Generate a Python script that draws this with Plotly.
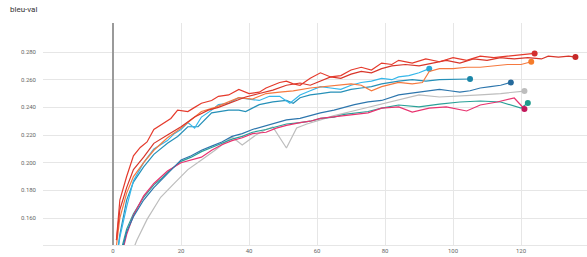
import plotly.graph_objects as go

# ---- data ----
red_a_steps = [1,2,4,6,8,10,12,15,17,19,22,24,26,29,31,34,37,40,43,45,47,49,51,53,55,58,61,64,67,70,73,76,79,82,84,88,92,96,100,104,108,112,116,120,124]
red_a_vals = [0.144,0.173,0.190,0.205,0.211,0.215,0.224,0.229,0.232,0.238,0.237,0.240,0.243,0.245,0.248,0.249,0.253,0.250,0.251,0.254,0.256,0.258,0.259,0.257,0.256,0.261,0.265,0.262,0.263,0.267,0.269,0.267,0.272,0.271,0.274,0.272,0.275,0.273,0.276,0.274,0.277,0.276,0.277,0.278,0.279]

red_b_steps = [1,2,4,6,9,12,16,20,24,28,31,35,39,43,47,51,55,58,61,64,67,70,73,76,79,82,86,90,94,98,102,106,110,114,118,122,126,128,131,134,136]
red_b_vals = [0.144,0.166,0.182,0.195,0.204,0.214,0.220,0.226,0.233,0.238,0.240,0.244,0.2475,0.250,0.2525,0.256,0.2576,0.256,0.259,0.262,0.261,0.264,0.266,0.265,0.268,0.270,0.271,0.270,0.272,0.274,0.272,0.275,0.274,0.276,0.275,0.276,0.275,0.277,0.2764,0.277,0.2764]

orange_steps = [1,2,4,6,9,12,16,20,23,26,30,34,37,41,45,49,53,58,62,67,70,73,76,79,84,88,91,93,96,100,104,108,112,116,120,123]
orange_vals = [0.140,0.160,0.178,0.190,0.200,0.209,0.218,0.225,0.231,0.237,0.240,0.244,0.247,0.246,0.250,0.251,0.252,0.254,0.255,0.256,0.257,0.256,0.252,0.255,0.258,0.257,0.258,0.266,0.268,0.268,0.269,0.269,0.270,0.271,0.271,0.273]

cyan_steps = [1,2,4,6,9,12,14,16,18,20,22,24,26,29,31,34,37,40,43,46,49,52,55,58,61,64,67,70,73,76,79,82,84,87,90,93]
cyan_vals = [0.130,0.146,0.168,0.187,0.200,0.210,0.213,0.216,0.221,0.224,0.229,0.225,0.233,0.238,0.242,0.243,0.247,0.246,0.245,0.248,0.248,0.243,0.249,0.252,0.255,0.254,0.253,0.256,0.258,0.259,0.261,0.260,0.262,0.263,0.265,0.268]

dteal_steps = [1,2,4,6,9,12,16,19,22,25,29,32,34,37,39,43,47,51,53,55,58,61,64,67,70,73,76,79,84,88,92,96,100,105]
dteal_vals = [0.130,0.148,0.173,0.186,0.197,0.206,0.214,0.219,0.226,0.226,0.236,0.237,0.238,0.238,0.237,0.242,0.244,0.245,0.243,0.247,0.249,0.250,0.251,0.251,0.253,0.254,0.255,0.257,0.259,0.260,0.259,0.260,0.260,0.2605]

blue_steps = [2,3,4,6,9,12,14,16,18,20,23,26,29,32,35,38,41,45,48,51,55,58,61,65,68,71,75,79,84,87,90,93,96,99,102,105,108,111,114,117]
blue_vals = [0.130,0.140,0.150,0.161,0.173,0.182,0.187,0.192,0.197,0.202,0.205,0.209,0.212,0.215,0.219,0.221,0.224,0.227,0.229,0.231,0.232,0.234,0.236,0.238,0.240,0.242,0.244,0.245,0.249,0.250,0.251,0.252,0.253,0.252,0.251,0.252,0.254,0.255,0.256,0.258]

teal_steps = [2,3,4,6,9,12,14,16,18,20,23,26,29,32,35,38,41,45,48,51,55,58,61,65,68,71,75,79,84,90,96,102,108,114,118,120,122]
teal_vals = [0.133,0.143,0.152,0.163,0.175,0.184,0.188,0.193,0.197,0.201,0.204,0.208,0.211,0.214,0.217,0.219,0.222,0.224,0.226,0.228,0.229,0.230,0.232,0.233,0.235,0.236,0.237,0.2395,0.2417,0.2403,0.2424,0.2439,0.2446,0.2439,0.241,0.2395,0.2431]

magenta_steps = [2,3,4,6,9,12,16,20,23,26,29,32,35,38,41,45,48,51,55,58,61,65,68,71,75,79,84,88,93,98,101,104,108,113,118,121]
magenta_vals = [0.128,0.138,0.148,0.162,0.176,0.185,0.194,0.200,0.202,0.204,0.209,0.213,0.216,0.218,0.221,0.222,0.225,0.227,0.229,0.230,0.232,0.233,0.234,0.235,0.236,0.2395,0.2403,0.2366,0.2395,0.2403,0.239,0.2374,0.2417,0.2439,0.2468,0.2388]

gray_steps = [4,6,7,10,14,18,22,26,30,35,38,42,45,47,51,54,57,61,65,70,75,79,84,90,96,102,108,114,121]
gray_vals = [0.125,0.137,0.144,0.159,0.175,0.185,0.195,0.202,0.209,0.2186,0.2128,0.220,0.224,0.2258,0.2106,0.2251,0.228,0.231,0.234,0.237,0.240,0.242,0.245,0.249,0.2475,0.248,0.249,0.250,0.2518]

x_ticks = [0, 20, 40, 60, 80, 100, 120]
y_ticks = [0.16, 0.18, 0.20, 0.22, 0.24, 0.26, 0.28]

series = [
    (gray_steps, gray_vals, "#bdbdbd", "#bdbdbd"),
    (teal_steps, teal_vals, "#2aa198", "#1e9b8c"),
    (magenta_steps, magenta_vals, "#e8336f", "#c2185b"),
    (blue_steps, blue_vals, "#2d76ad", "#256a9c"),
    (dteal_steps, dteal_vals, "#2690b8", "#1b86a8"),
    (cyan_steps, cyan_vals, "#35b7ea", "#29a8d8"),
    (orange_steps, orange_vals, "#f5793f", "#f57c2a"),
    (red_b_steps, red_b_vals, "#d8362a", "#c62828"),
    (red_a_steps, red_a_vals, "#e53a2c", "#d32f2f"),
]

fig = go.Figure()
for xs, ys, col, mcol in series:
    fig.add_trace(go.Scatter(x=xs, y=ys, mode="lines",
                             line=dict(color=col, width=1.2), hoverinfo="skip",
                             showlegend=False))
    fig.add_trace(go.Scatter(x=[xs[-1]], y=[ys[-1]], mode="markers",
                             marker=dict(color=mcol, size=6), hoverinfo="skip",
                             showlegend=False, cliponaxis=False))

fig.update_layout(
    width=587, height=257,
    margin=dict(l=43, r=0, t=23, b=12, autoexpand=False),
    paper_bgcolor="white", plot_bgcolor="white",
    font=dict(family="Roboto, DejaVu Sans, sans-serif", size=6, color="#666"),
    xaxis=dict(range=[-20.6, 139.4], tickvals=x_ticks, showgrid=True,
               gridcolor="#e6e6e6", gridwidth=1, zeroline=True,
               zerolinecolor="#9a9a9a", zerolinewidth=1.5,
               showline=True, linecolor="#e6e6e6", ticks="",
               ticklabelstandoff=0, automargin=False,
               tickfont=dict(size=6, color="#666")),
    yaxis=dict(range=[0.1405, 0.301], tickvals=y_ticks, tickformat=".3f",
               showgrid=True, gridcolor="#e6e6e6", gridwidth=1,
               zeroline=False, showline=False, ticks="", ticklabelstandoff=6,
               automargin=False, tickfont=dict(size=6, color="#666")),
    annotations=[dict(text="bleu-val", xref="paper", yref="paper",
                      x=-0.064, y=1.0586, xanchor="left", yanchor="middle",
                      showarrow=False, font=dict(size=8, color="#333"))],
)

fig.write_html("out.html", config={"displayModeBar": False},
               post_script="document.body.style.margin='0';document.documentElement.style.margin='0';")
